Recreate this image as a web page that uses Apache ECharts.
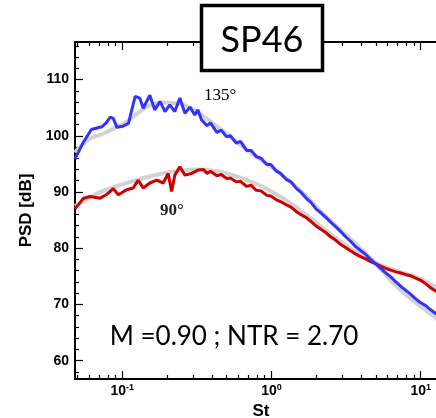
<!DOCTYPE html>
<html><head><meta charset="utf-8">
<script src="https://cdn.jsdelivr.net/npm/echarts@6/dist/echarts.min.js"></script>
<style>html,body{margin:0;padding:0;background:#fff}#c{width:436px;height:418px}</style>
</head><body><div id="c"></div>
<script>
// ---- data ----
const xMajorTicks = [0.1, 1, 10];
const xMinorTicks = [0.05,0.06,0.07,0.08,0.09,0.2,0.3,0.4,0.5,0.6,0.7,0.8,0.9,2,3,4,5,6,7,8,9];
const yMajorTicks = [60, 70, 80, 90, 100, 110];
const yMinorTicks = [58,62,64,66,68,72,74,76,78,82,84,86,88,92,94,96,98,102,104,106,108,112,114,116];

const stBlue = [0.0482,0.055,0.062,0.073,0.078,0.083,0.087,0.092,0.101,0.11,0.122,0.131,0.138,0.153,0.165,0.179,0.193,0.208,0.225,0.243,0.263,0.284,0.306,0.321,
  0.34,0.37,0.39,0.43,0.46,0.5,0.53,0.58,0.62,0.68,0.73,0.79,0.85,0.93,0.99,1.08,1.15,1.26,1.35,1.47,1.57,1.72,1.83,2.0,2.14,2.33,2.5,2.7,2.9,3.15,3.4,3.65,3.95,4.28,4.62,5.0,5.39,5.83,6.3,6.82,7.37,7.95,8.58,9.25,10.0,10.8,11.6,12.6,13.5,15];
const psdBlue = [95.9,98.9,101.1,101.6,102.3,103.3,103.1,101.5,101.7,102.2,107.0,106.7,104.9,107.2,104.6,106.1,104.3,105.5,104.3,106.7,104.0,105.1,103.7,104.6,
  102.8,101.8,102.3,100.6,101.0,99.8,100.0,98.7,99.0,97.4,97.4,96.3,96.0,94.9,94.9,93.7,93.3,92.2,91.8,90.6,90.0,88.8,88.2,86.9,86.3,85.4,84.6,83.8,83.0,82.0,81.2,80.3,79.6,78.9,78.0,77.2,76.4,75.6,74.9,74.0,73.2,72.5,71.8,71.0,70.3,69.8,69.1,68.4,67.8,67.0];

const stRed = [0.0482,0.055,0.061,0.071,0.078,0.087,0.094,0.107,0.118,0.128,0.138,0.153,0.17,0.188,0.203,0.214,0.225,0.243,0.263,0.291,0.322,
  0.35,0.37,0.39,0.43,0.46,0.5,0.53,0.58,0.62,0.68,0.73,0.79,0.85,0.93,0.99,1.08,1.15,1.26,1.35,1.47,1.57,1.72,1.83,2.0,2.14,2.33,2.5,2.7,2.9,3.15,3.4,3.65,3.95,4.28,4.62,5.0,5.39,5.83,6.3,6.82,7.37,7.95,8.58,9.25,10.0,10.8,11.6,12.6,13.5,15];
const psdRed = [87.0,88.9,89.2,88.9,89.5,90.6,89.5,90.4,90.7,92.1,90.7,91.6,92.1,91.6,93.3,90.1,93.0,94.5,93.0,93.3,93.9,
  94.0,93.3,93.7,92.9,93.1,92.4,92.5,91.8,91.9,91.0,91.2,90.3,90.2,89.4,89.3,88.6,88.3,87.7,87.3,86.5,86.0,85.4,84.8,83.9,83.4,82.7,82.0,81.4,80.7,80.1,79.5,79.0,78.5,78.1,77.6,77.2,76.8,76.4,76.1,75.8,75.6,75.3,75.1,74.7,74.3,73.7,73.0,72.4,71.8,71.2];

const stFitBlue = [0.0482,0.052,0.061,0.075,0.089,0.107,0.131,0.153,0.19,0.225,0.284,0.36,0.45,0.61,0.83,1.14,1.55,2.11,2.86,3.87,5.23,7.03,9.84,15];
const psdFitBlue = [97.0,98.0,99.5,100.4,101.4,102.5,104.3,105.4,105.9,105.8,105.0,103.2,101.3,98.5,95.9,93.3,90.3,86.7,83.4,80.2,76.7,73.0,69.8,66.2];

const stFitRed = [0.0482,0.058,0.07,0.096,0.131,0.179,0.243,0.33,0.45,0.61,0.83,1.14,1.55,2.11,2.86,3.87,5.23,7.03,9.84,15];
const psdFitRed = [87.5,88.7,89.9,91.2,92.3,93.2,93.8,94.0,93.6,92.6,91.2,89.2,86.8,84.0,81.3,79.0,77.2,75.9,74.6,71.8];

const xMin = 0.0482, xMax = 15, yMin = 56.75, yMax = 116.67;
// --------------------------------------

const pair = (xs, ys) => xs.map((x, i) => [x, ys[i]]);
const chart = echarts.init(document.getElementById('c'), null, {renderer: 'canvas'});
const lblFont = {fontFamily: '"Liberation Sans", Arial, sans-serif', fontWeight: 'bold', color: '#000'};

function xAxisDef(pos, ticks, len, labels) {
  return {
    type: 'log', logBase: 10, min: xMin, max: xMax, position: pos, gridIndex: 0,
    axisLine: {show: true, onZero: false, lineStyle: {color: '#000', width: 2}},
    axisTick: {show: true, inside: true, length: len, customValues: ticks, lineStyle: {color: '#000', width: 1.2}},
    axisLabel: labels ? {
      show: true, margin: 4, customValues: ticks,
      formatter: v => '{b|10}{s|' + Math.round(Math.log10(v)) + '}',
      rich: {
        b: Object.assign({fontSize: 14, lineHeight: 16}, lblFont),
        s: Object.assign({fontSize: 9, lineHeight: 9, verticalAlign: 'top'}, lblFont)
      }
    } : {show: false},
    splitLine: {show: false}, minorTick: {show: false}, minorSplitLine: {show: false},
    name: (labels && pos === 'bottom') ? 'St' : '',
    nameLocation: 'middle', nameGap: 22,
    nameTextStyle: Object.assign({fontSize: 17}, lblFont)
  };
}
function yAxisDef(ticks, len, labels) {
  return {
    type: 'value', min: yMin, max: yMax, position: 'left', gridIndex: 0,
    axisLine: {show: true, onZero: false, lineStyle: {color: '#000', width: 2}},
    axisTick: {show: true, inside: true, length: len, customValues: ticks, lineStyle: {color: '#000', width: 1.2}},
    axisLabel: labels ? Object.assign({show: true, margin: 6, customValues: ticks, fontSize: 14}, lblFont) : {show: false},
    splitLine: {show: false},
    name: labels ? 'PSD [dB]' : '',
    nameLocation: 'middle', nameGap: 33,
    nameTextStyle: Object.assign({fontSize: 17}, lblFont)
  };
}

const option = {
  backgroundColor: '#fff',
  animation: false,
  grid: {left: 75, top: 42, width: 372, height: 337, containLabel: false, outerBoundsMode: 'none'},
  xAxis: [
    xAxisDef('bottom', xMajorTicks, 8, true),
    xAxisDef('bottom', xMinorTicks, 4, false),
    xAxisDef('top', xMajorTicks, 8, false),
    xAxisDef('top', xMinorTicks, 4, false)
  ],
  yAxis: [
    yAxisDef(yMajorTicks, 8, true),
    yAxisDef(yMinorTicks, 4, false)
  ],
  series: [
    {type: 'line', name: 'fit135', data: pair(stFitBlue, psdFitBlue), smooth: true, symbol: 'none',
     lineStyle: {color: '#d2d2d2', width: 4}, z: 1},
    {type: 'line', name: 'fit90', data: pair(stFitRed, psdFitRed), smooth: true, symbol: 'none',
     lineStyle: {color: '#d2d2d2', width: 4}, z: 1},
    {type: 'line', name: '90°', data: pair(stRed, psdRed), symbol: 'none',
     lineStyle: {color: '#cc0000', width: 3}, z: 2},
    {type: 'line', name: '135°', data: pair(stBlue, psdBlue), symbol: 'none',
     lineStyle: {color: '#3333ff', width: 3}, z: 3}
  ],
  graphic: [
    {type: 'rect', z: 100, shape: {x: 201.5, y: 5.5, width: 121, height: 65},
     style: {fill: '#fff', stroke: '#000', lineWidth: 3.5}},
    {type: 'text', z: 101, x: 262, y: 40,
     style: {text: 'SP46', font: '36px Lato, "Noto Sans", sans-serif', fill: '#000', align: 'center', verticalAlign: 'middle'}},
    {type: 'text', z: 101, x: 234, y: 337,
     style: {text: 'M =0.90 ; NTR = 2.70', font: '26px Lato, "Noto Sans", sans-serif', fill: '#000', align: 'center', verticalAlign: 'middle'}},
    {type: 'text', z: 101, x: 204, y: 96,
     style: {text: '135°', font: '17px "Liberation Serif", serif', fill: '#000', align: 'left', verticalAlign: 'middle'}},
    {type: 'text', z: 101, x: 160, y: 211,
     style: {text: '90°', font: 'bold 17px "Liberation Serif", serif', fill: '#222', align: 'left', verticalAlign: 'middle'}}
  ]
};
chart.setOption(option);
</script></body></html>
